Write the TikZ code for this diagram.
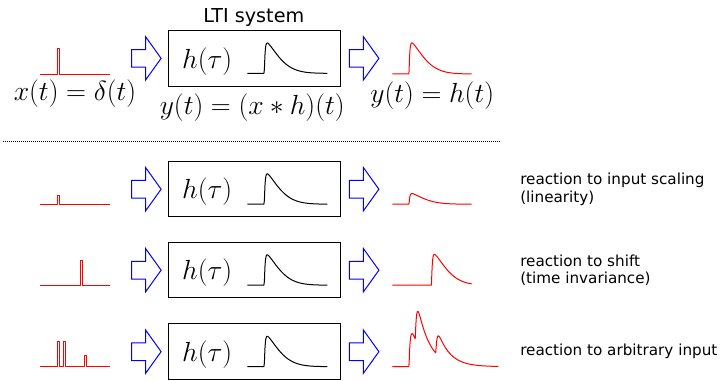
\documentclass[tikz,border=0pt]{standalone}
\usepackage{fontspec}
\setsansfont{DejaVu Sans}

\begin{document}
\begin{tikzpicture}[
  x=0.75pt, y=-0.75pt,
  declare function={
    resp(\u)=(1-exp(-max(\u,0.001)/0.8))*exp(-(max(\u,0.001)/18.4)^1.5)/0.92;
    resq(\u)=(exp(-max(\u,0)/12)-exp(-max(\u,0)/1.2))/0.697;},
  sys/.style={draw, line width=0.75pt, minimum width=128.8pt, minimum height=41.5pt, inner sep=0pt},
  sig/.style={draw=red, line width=0.75pt, line join=round},
  kern/.style={draw=black, line width=0.75pt, line join=round},
  bigarr/.style={draw=blue, line width=0.75pt},
  mth/.style={font=\huge, inner sep=0pt},
  lbl/.style={font=\fontsize{11.4}{13.3}\selectfont\sffamily, align=left, anchor=west, inner sep=0pt}]
\useasboundingbox (0,0) rectangle (722,380);

% inputs
\draw[sig] (40,74) -- (57.7,74) -- ++(0,-26) -- ++(1.5,0) -- ++(0,26) -- (110,74);
\draw[sig] (40,204.2) -- (57.7,204.2) -- ++(0,-8.5) -- ++(1.5,0) -- ++(0,8.5) -- (110,204.2);
\draw[sig] (40,285.2) -- (80.7,285.2) -- ++(0,-25.2) -- ++(1.5,0) -- ++(0,25.2) -- (110,285.2);
\draw[sig] (40,366.65) -- (57.9,366.65) -- ++(0,-25) -- ++(1.5,0) -- ++(0,25)
  -- (63.9,366.65) -- ++(0,-25) -- ++(1.5,0) -- ++(0,25)
  -- (84.5,366.65) -- ++(0,-11) -- ++(1.5,0) -- ++(0,11) -- (110,366.65);

% the four systems with their arrows
\foreach \sy/\cy in {sys0/58.35, sys1/189.2, sys2/270.2, sys3/351.65} {
  \node[sys] (\sy) at (254.15,\cy) {};
  \node[mth, anchor=base] (\sy h) at (207.2,{\cy+9.7}) {$h(\tau)$};
  \draw[kern] plot[domain=247.3:327.3, samples=160] (\x,{\cy+15-30.6*resp(\x-264.3)});
  \foreach \b in {131.6,349.4}
    \draw[bigarr] (\b,{\cy-8.85}) -- ({\b+14},{\cy-8.85}) -- ({\b+14},{\cy-21.65})
      -- ({\b+29.5},\cy) -- ({\b+14},{\cy+21.65}) -- ({\b+14},{\cy+8.85}) -- (\b,{\cy+8.85}) -- cycle;
}

\node[font=\fontsize{14.4}{17}\selectfont\sffamily, anchor=base] (title) at (253.8,22.7) {LTI system};
\node[mth, anchor=base] (xin) at (75,100) {$x(t)=\delta(t)$};
\node[mth, anchor=base] (conv) at (252.2,114) {$y(t)=(x*h)(t)$};
\node[mth, anchor=base] (yout) at (432.2,102.4) {$y(t)=h(t)$};

% outputs
\draw[sig] plot[domain=392.3:471.7, samples=200] (\x,{74-31.3*resp(\x-409)});
\draw[sig] plot[domain=392.3:471.7, samples=200] (\x,{204.2-10.7*resp(\x-409)});
\draw[sig] plot[domain=392.3:471.7, samples=200] (\x,{285.2-31*resp(\x-431.5)});
\draw[sig] plot[domain=392.3:498.3, samples=260]
  (\x,{366.65-33*resq(\x-409)-33*resq(\x-415.3)-20*resq(\x-435.8)});

\draw[line width=0.75pt, dash pattern=on 0.75pt off 0.75pt] (3,141) -- (501,141);

\node[lbl] (lin) at (520,189.2) {reaction to input scaling\\(linearity)};
\node[lbl] (tinv) at (520,270.2) {reaction to shift\\(time invariance)};
\node[lbl] (arb) at (520,351.65) {reaction to arbitrary input};
\end{tikzpicture}
\end{document}
